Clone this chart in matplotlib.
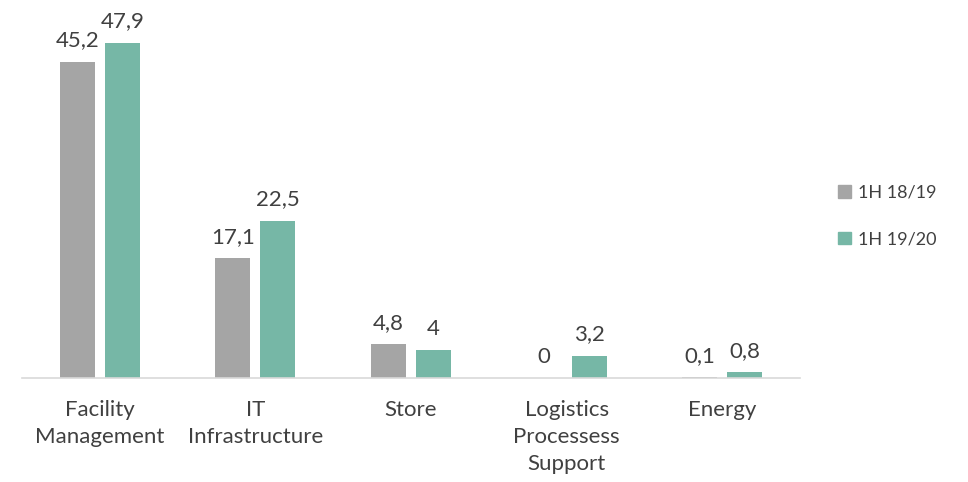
import matplotlib.pyplot as plt
import numpy as np
from matplotlib.patches import Patch

categories = ["Facility\nManagement", "IT\nInfrastructure", "Store", "Logistics\nProcessess\nSupport", "Energy"]
h1_1819 = [45.2, 17.1, 4.8, 0, 0.1]
h1_1920 = [47.9, 22.5, 4, 3.2, 0.8]
labels_1819 = ["45,2", "17,1", "4,8", "0", "0,1"]
labels_1920 = ["47,9", "22,5", "4", "3,2", "0,8"]

GRAY = "#A5A5A5"
TEAL = "#76B7A6"
TXT = "#404040"

plt.rcParams['font.family'] = ['Lato', 'DejaVu Sans']

fig = plt.figure(figsize=(9.68, 4.82), dpi=100)
ax = fig.add_axes([22 / 968, 104 / 482, 778 / 968, 350 / 482])

x = np.arange(len(categories))
w = 0.225
off = 0.145
ax.bar(x - off, h1_1819, w, color=GRAY)
ax.bar(x + off, h1_1920, w, color=TEAL)

# value labels above the bars
for xi, v, s in zip(x, h1_1819, labels_1819):
    ax.text(xi - off, v + 1.6, s, ha="center", va="bottom", fontsize=16, color=TXT)
for xi, v, s in zip(x, h1_1920, labels_1920):
    ax.text(xi + off, v + 1.6, s, ha="center", va="bottom", fontsize=16, color=TXT)

ax.set_xlim(-0.5, 4.5)
ax.set_ylim(0, 50)
ax.set_xticks(x)
ax.set_xticklabels(categories, fontsize=16, color=TXT, linespacing=1.43)
ax.tick_params(axis="x", length=0, pad=16)
ax.set_yticks([])
for side in ["top", "right", "left"]:
    ax.spines[side].set_visible(False)
ax.spines["bottom"].set_color("#D9D9D9")
ax.spines["bottom"].set_linewidth(1.2)

handles = [Patch(color=GRAY, label="1H 18/19"), Patch(color=TEAL, label="1H 19/20")]
fig.legend(handles=handles, loc="center left", bbox_to_anchor=(822 / 968, 1 - 216 / 482),
           frameon=False, fontsize=13, labelcolor=TXT, handlelength=0.7, handleheight=0.7,
           handletextpad=0.4, labelspacing=1.7)

fig.savefig("out.png")
